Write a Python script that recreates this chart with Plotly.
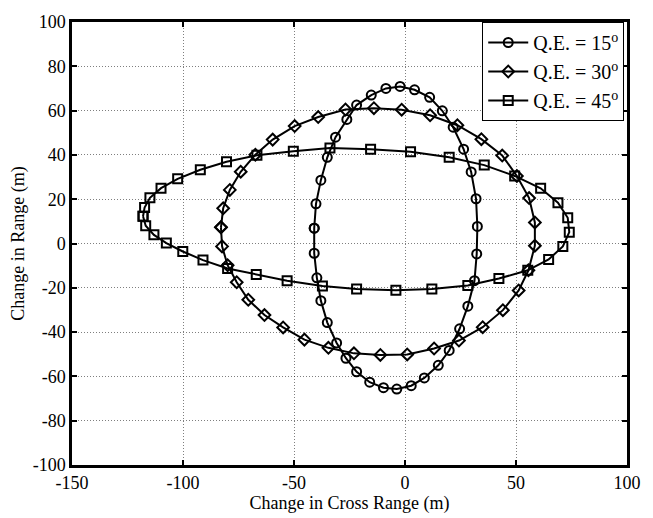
import plotly.graph_objects as go

# Q.E. = 15 deg (circles)
qe15_x = [-40.9, -40.1, -37.9, -35.0, -31.3, -26.2, -21.8, -15.2, -8.6, -2.2, 4.3, 11.1, 16.8,
          21.7, 26.4, 29.8, 32.0, 32.6, 32.3, 31.3, 28.3, 24.6, 19.9, 15.0, 8.7, 2.8, -3.7,
          -9.7, -15.9, -21.8, -26.6, -30.8, -35.0, -37.9, -39.7, -40.9, -40.9]
qe15_y = [6.9, 17.9, 28.6, 38.9, 48.0, 56.0, 62.5, 67.0, 70.0, 70.9, 69.4, 66.0, 59.9,
          52.5, 42.6, 32.3, 20.2, 7.7, -4.7, -16.8, -28.3, -38.5, -48.3, -55.0, -60.7, -64.2, -65.7,
          -65.1, -62.6, -57.9, -51.8, -44.9, -35.7, -25.8, -15.5, -4.4, 6.9]

# Q.E. = 30 deg (diamonds)
qe30_x = [-82.9, -81.9, -78.9, -74.0, -67.4, -59.6, -49.7, -39.1, -26.8, -14.0, -1.5, 11.3, 23.6,
          34.4, 43.8, 50.4, 55.9, 58.5, 58.5, 55.6, 51.2, 44.1, 35.0, 24.3, 13.1, 1.0, -11.1,
          -23.0, -34.5, -45.3, -54.9, -63.3, -70.6, -75.8, -79.9, -82.4, -82.9]
qe30_y = [7.3, 15.9, 24.2, 32.4, 40.1, 46.9, 53.0, 57.1, 60.5, 61.1, 60.4, 57.9, 53.4,
          47.1, 39.7, 30.5, 20.5, 9.5, -1.0, -12.1, -21.2, -30.1, -37.8, -43.8, -47.4, -50.1, -50.3,
          -49.6, -47.1, -43.4, -37.9, -32.3, -25.4, -17.5, -9.8, -1.3, 7.3]

# Q.E. = 45 deg (squares)
qe45_x = [-118.0, -117.3, -114.9, -109.9, -102.4, -92.2, -80.4, -66.7, -50.3, -33.8, -15.5, 2.5,
          19.9, 35.7, 49.4, 61.1, 68.9, 73.3, 74.0, 71.1, 64.7, 55.3, 42.3, 28.3, 12.1, -4.1,
          -21.8, -37.2, -53.1, -67.0, -79.9, -91.0, -100.1, -107.5, -113.1, -116.8, -118.0]
qe45_y = [12.3, 16.2, 20.6, 25.0, 29.2, 33.3, 36.9, 39.8, 41.6, 43.1, 42.6, 41.4,
          38.9, 35.4, 30.5, 24.9, 18.4, 11.6, 5.1, -1.3, -7.2, -12.1, -15.8, -19.0, -20.5, -21.1,
          -20.5, -19.2, -16.8, -14.0, -11.3, -7.5, -3.6, 0.2, 3.9, 8.0, 12.3]

names = ["Q.E. = 15<sup>o</sup>", "Q.E. = 30<sup>o</sup>", "Q.E. = 45<sup>o</sup>"]
symbols = ["circle-open", "diamond-open", "square-open"]
sizes = [9, 9, 9]

x_ticks = [-150, -100, -50, 0, 50, 100]
y_ticks = [-100, -80, -60, -40, -20, 0, 20, 40, 60, 80, 100]

fig = go.Figure()
for xs, ys, nm, sym, sz in zip([qe15_x, qe30_x, qe45_x], [qe15_y, qe30_y, qe45_y], names, symbols, sizes):
    fig.add_trace(go.Scatter(
        x=xs, y=ys, name=nm, mode="lines+markers",
        line=dict(color="black", width=2),
        marker=dict(symbol=sym, size=sz, color="black", line=dict(color="black", width=2)),
    ))

font_family = "Liberation Serif, Times New Roman, serif"
axis_common = dict(
    showline=True, linecolor="black", linewidth=2.5, mirror="ticks",
    ticks="inside", ticklen=5, tickwidth=1.5, tickcolor="black",
    showgrid=True, gridcolor="rgba(0,0,0,0.5)", gridwidth=1, griddash="1px,2px",
    zeroline=False, tickfont=dict(family=font_family, size=18, color="black"),
)
fig.update_xaxes(range=[-150, 100], tickvals=x_ticks, ticktext=[str(v) for v in x_ticks],
                 title=dict(text="Change in Cross Range (m)", font=dict(family=font_family, size=18, color="black"), standoff=0),
                 **axis_common)
fig.update_yaxes(range=[-100, 100], tickvals=y_ticks, ticktext=[str(v) for v in y_ticks],
                 title=dict(text="Change in Range (m)", font=dict(family=font_family, size=18, color="black"), standoff=4),
                 **axis_common)

fig.update_layout(
    width=653, height=518,
    margin=dict(l=72, r=16, t=15, b=52),
    plot_bgcolor="white", paper_bgcolor="white",
    font=dict(family=font_family, size=18, color="black"),
    legend=dict(x=0.995, y=1.0, xanchor="right", yanchor="top",
                bgcolor="white", bordercolor="black", borderwidth=1,
                font=dict(family=font_family, size=20, color="black"),
                itemwidth=40, tracegroupgap=0),
    showlegend=True,
)

fig.write_html("out.html")
